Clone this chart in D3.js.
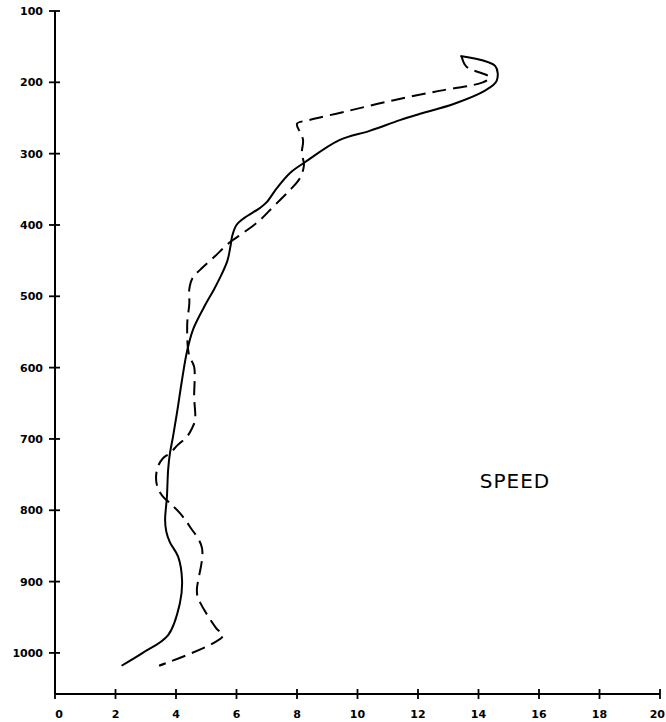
<!DOCTYPE html>
<html><head><meta charset="utf-8">
<script src="https://cdn.jsdelivr.net/npm/d3@7"></script>
<style>body{margin:0;background:#fff}svg{display:block}</style>
</head><body>
<svg id="c" width="666" height="722"></svg>
<script>
// Data: [speed, depth]
const xTicks = [0,2,4,6,8,10,12,14,16,18,20];
const yTicks = [100,200,300,400,500,600,700,800,900,1000];
const solidSeries = [[13.4,163],[14.55,177],[14.6,198],[14.2,212],[13.2,230],[12.0,245],[11.4,253],[10.4,268],[9.4,281],[8.26,312],[7.77,327],[7.34,348],[7.0,368],[6.78,376],[6.26,390],[6.0,400],[5.86,415],[5.8,430],[5.7,450],[5.5,470],[5.26,490],[4.93,515],[4.56,547],[4.36,578],[4.2,617],[4.03,664],[3.9,697],[3.8,720],[3.74,743],[3.7,781],[3.64,814],[3.68,830],[3.8,845],[4.07,865],[4.2,898],[4.13,930],[3.74,975],[2.9,1000],[2.2,1018]];
const dashedSeries = [[13.44,163],[13.6,178],[14.37,193],[14.14,200],[12.7,212],[11.2,225],[9.7,240],[8.4,253],[8.0,258],[8.1,270],[8.2,281],[8.16,299],[8.23,316],[8.1,334],[7.77,351],[7.44,365],[7.04,382],[6.78,393],[6.26,410],[5.76,425],[5.26,445],[4.87,460],[4.54,475],[4.44,490],[4.44,510],[4.37,540],[4.43,582],[4.6,599],[4.6,641],[4.63,673],[4.53,685],[4.36,697],[4.07,708],[3.8,720],[3.57,727],[3.4,739],[3.34,755],[3.4,769],[3.57,781],[3.8,790],[4.13,804],[4.46,823],[4.86,853],[4.69,912],[4.73,923],[5.32,965],[5.55,976],[3.44,1018]];
const labelText = "SPEED";

const svg = d3.select("#c");
const x = d3.scaleLinear().domain([0,20]).range([55,660]);
const y = d3.scaleLinear().domain([100,1057.6]).range([11,694]);

const font = "'DejaVu Sans', sans-serif";
// axes lines
svg.append("line").attr("x1",x(0)).attr("x2",x(0)).attr("y1",y(100)).attr("y2",y.range()[1])
  .attr("stroke","#000").attr("stroke-width",2);
svg.append("line").attr("x1",x(0)).attr("x2",x(20)).attr("y1",y.range()[1]).attr("y2",y.range()[1])
  .attr("stroke","#000").attr("stroke-width",2);

// y ticks
const yt = svg.append("g");
yTicks.forEach(v=>{
  yt.append("line").attr("x1",x(0)-6).attr("x2",x(0)+5).attr("y1",y(v)).attr("y2",y(v))
    .attr("stroke","#000").attr("stroke-width",1.8);
  yt.append("text").attr("x",x(0)-12).attr("y",y(v)+4).attr("text-anchor","end")
    .attr("font-family",font).attr("font-weight","bold").attr("font-size",11).text(v);
});
// x ticks
const xt = svg.append("g");
xTicks.forEach(v=>{
  xt.append("line").attr("x1",x(v)).attr("x2",x(v)).attr("y1",y.range()[1]-5).attr("y2",y.range()[1]+5)
    .attr("stroke","#000").attr("stroke-width",1.8);
  const last = v===20;
  xt.append("text").attr("x",last?665:x(v)+(v===0?4:0)).attr("y",y.range()[1]+24)
    .attr("text-anchor",last?"end":"middle")
    .attr("font-family",font).attr("font-weight","bold").attr("font-size",11).text(v);
});

const line = d3.line().x(d=>x(d[0])).y(d=>y(d[1])).curve(d3.curveCatmullRom.alpha(0.5));
svg.append("path").attr("d",line(solidSeries)).attr("fill","none").attr("stroke","#000").attr("stroke-width",2);
svg.append("path").attr("d",line(dashedSeries)).attr("fill","none").attr("stroke","#000").attr("stroke-width",2)
  .attr("stroke-dasharray","14,7");

svg.append("text").attr("x",515).attr("y",488).attr("text-anchor","middle")
  .attr("font-family",font).attr("font-size",20).attr("letter-spacing",1).text(labelText);
</script>
</body></html>
